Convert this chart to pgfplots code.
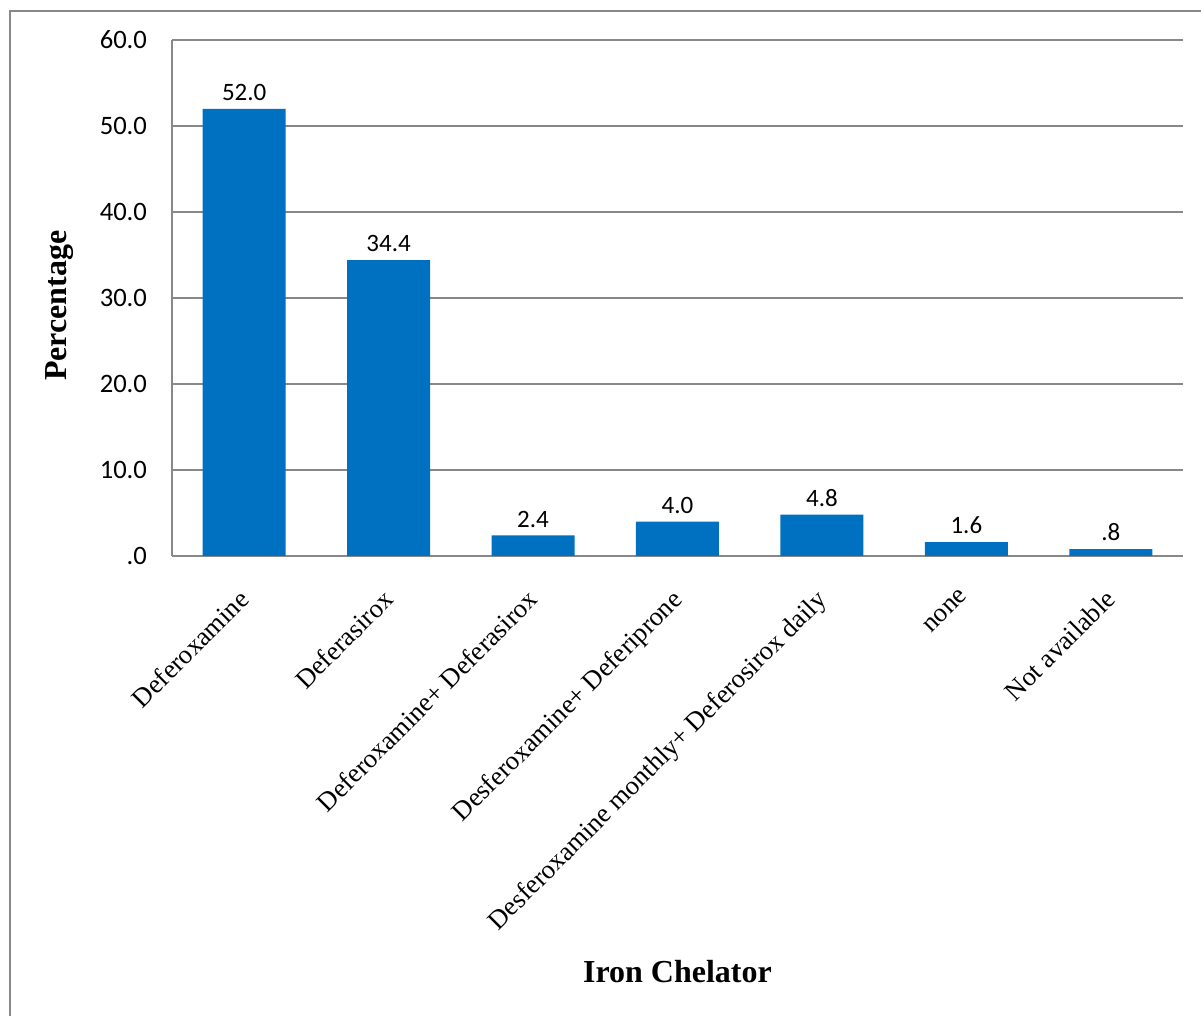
\documentclass[border=0pt]{standalone}
\usepackage{pgfplots}
\pgfplotsset{compat=1.18}
\usepackage{fontspec}
\setmainfont{Liberation Serif}
\newfontfamily\calib{Carlito}
\definecolor{barblue}{HTML}{0070C0}
\definecolor{gridgray}{HTML}{888888}
\begin{document}
\begin{tikzpicture}
\useasboundingbox (-86pt,-230pt) rectangle (514.5pt,278pt);
\draw[gridgray, line width=1.2pt] (-81pt,-240pt) -- (-81pt,272.5pt) -- (530pt,272.5pt);
\begin{axis}[
  scale only axis,
  width=505.5pt, height=258pt,
  xmin=-0.5, xmax=6.5,
  ymin=0, ymax=60,
  ytick={0,10,20,30,40,50,60},
  yticklabels={.0,10.0,20.0,30.0,40.0,50.0,60.0},
  xtick={0,1,2,3,4,5,6},
  xticklabels={Deferoxamine,Deferasirox,Deferoxamine+ Deferasirox,Desferoxamine+ Deferiprone,Desferoxamine monthly+ Deferosirox daily,none,Not available},
  major tick length=0pt,
  ymajorgrids,
  grid style={gridgray, line width=0.8pt},
  axis line style={gridgray, line width=0.8pt},
  axis x line*=bottom,
  axis y line*=left,
  yticklabel style={font=\calib\fontsize{13.3}{15}\selectfont, xshift=-9pt},
  xticklabel style={font=\fontsize{13.3}{15}\selectfont, rotate=45, anchor=north east, xshift=-13.7pt, yshift=-8.7pt, inner sep=0pt},
  ylabel={Percentage},
  ylabel style={font=\bfseries\fontsize{16}{18}\selectfont, at={(axis description cs:-0.1108,0.485)}, anchor=center},
  xlabel={Iron Chelator},
  xlabel style={font=\bfseries\fontsize{16}{18}\selectfont, at={(axis description cs:0.5,0)}, anchor=center, yshift=-208pt},
  ybar,
  bar width=41.5pt,
  point meta=explicit symbolic,
  nodes near coords,
  nodes near coords style={font=\calib\fontsize{12.5}{14}\selectfont, text=black, yshift=0.5pt},
]
\addplot[fill=barblue, draw=none] coordinates {
  (0,52.0) [52.0]
  (1,34.4) [34.4]
  (2,2.4) [2.4]
  (3,4.0) [4.0]
  (4,4.8) [4.8]
  (5,1.6) [1.6]
  (6,0.8) [.8]
};
\end{axis}
\end{tikzpicture}
\end{document}
